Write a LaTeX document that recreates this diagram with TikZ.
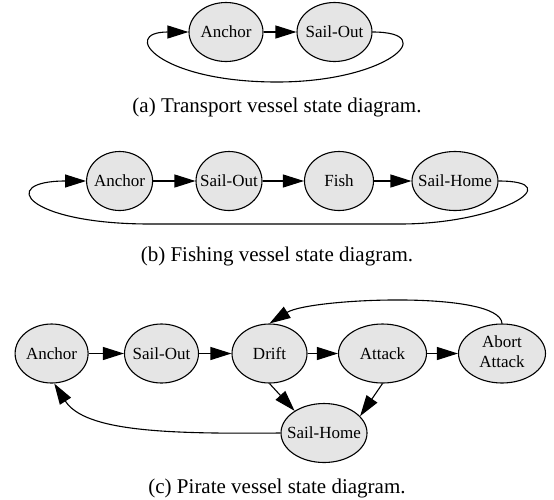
\documentclass[tikz,border=0pt]{standalone}
\usepackage{fontspec}
\setmainfont{Liberation Serif}
\newfontfamily\nodefont{Liberation Serif}
\usetikzlibrary{arrows.meta,shapes.geometric}
\definecolor{nodefill}{HTML}{E5E5E5}
\newcommand{\nlab}[1]{\makebox[0pt][c]{#1}}
\begin{document}
\begin{tikzpicture}[x=1pt,y=-1pt,
  state/.style={ellipse, draw, fill=nodefill, line width=1.1pt, inner sep=0pt,
    minimum height=59pt, font=\nodefont\fontsize{17}{19.5}\selectfont},
  edge/.style={line width=1.1pt, -{Triangle[length=21pt,width=13pt]}},
  capt/.style={font=\nodefont\fontsize{21}{24}\selectfont, anchor=base, inner sep=0pt}]
\useasboundingbox (0,0) rectangle (554,499);

% (a)
\node[state, minimum width=74pt] (a1) at (226,32) {\nlab{Anchor}};
\node[state, minimum width=75pt] (a2) at (334.5,32) {\nlab{Sail-Out}};
\draw[edge] (a1) -- (a2);
\coordinate (abot) at (277,82);
\draw[edge] (a2.east) .. controls (441.5,32) and (387,82) .. (abot)
  .. controls (157,82) and (119.5,32) .. (a1.west);
\node[capt] (capa) at (277,112) {(a) Transport vessel state diagram.};

% (b)
\node[state, minimum width=66pt] (b1) at (119.6,181) {\nlab{Anchor}};
\node[state, minimum width=66pt] (b2) at (229,181) {\nlab{Sail-Out}};
\node[state, minimum width=69pt] (b3) at (339,181) {\nlab{Fish}};
\node[state, minimum width=86pt] (b4) at (455,181) {\nlab{Sail-Home}};
\draw[edge] (b1) -- (b2);
\draw[edge] (b2) -- (b3);
\draw[edge] (b3) -- (b4);
\coordinate (bR) at (400,224);
\coordinate (bL) at (150,224);
\draw[edge] (b4.east) .. controls (570,181) and (500,224) .. (bR) -- (bL)
  .. controls (25,224) and (-3,181) .. (b1.west);
\node[capt] (capb) at (277,261) {(b) Fishing vessel state diagram.};

% (c)
\node[state, minimum width=73pt] (c1) at (51.6,353.5) {\nlab{Anchor}};
\node[state, minimum width=74pt] (c2) at (161.5,353.5) {\nlab{Sail-Out}};
\node[state, minimum width=75pt] (c3) at (269.5,353.5) {\nlab{Drift}};
\node[state, minimum width=88pt] (c4) at (382.5,353.5) {\nlab{Attack}};
\node[state, minimum width=87pt] (c5) at (502,353.5) {\nlab{\begin{tabular}{@{}c@{}}Abort\\Attack\end{tabular}}};
\node[state, minimum width=86pt] (c6) at (324,433) {\nlab{Sail-Home}};
\draw[edge] (c1) -- (c2);
\draw[edge] (c2) -- (c3);
\draw[edge] (c3) -- (c4);
\draw[edge] (c4) -- (c5);
\draw[edge] (c5.north) .. controls (500,290) and (310,298) .. (c3.north);
\draw[edge] (c3.south) -- (c6.143);
\draw[edge] (c4.south) -- (c6.25);
\draw[edge] (c6.west) .. controls (170,434) and (85,432) .. (c1.-85);
\node[capt] (capc) at (277,493) {(c) Pirate vessel state diagram.};
\end{tikzpicture}
\end{document}
